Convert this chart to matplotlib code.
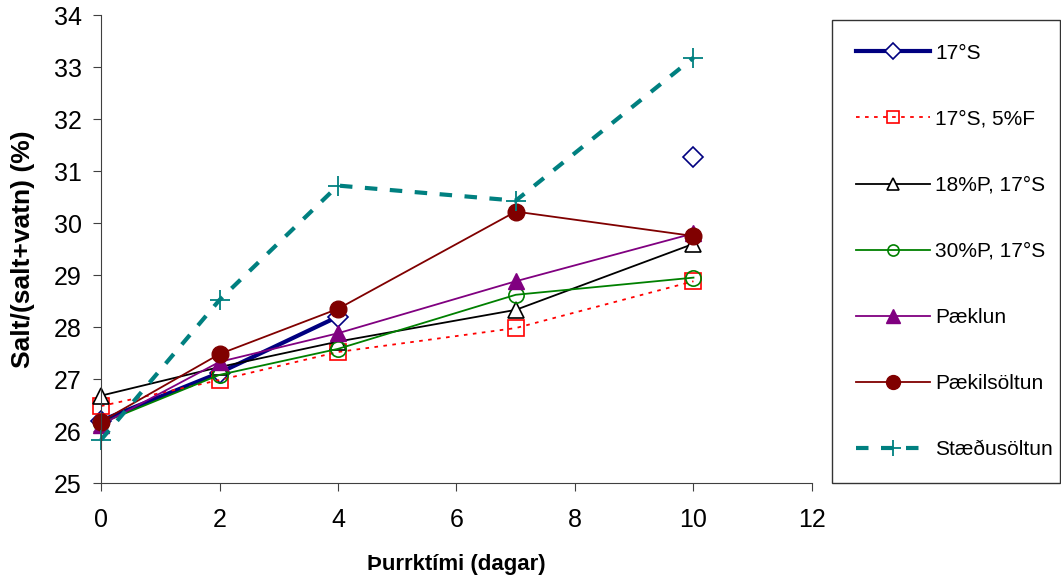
import numpy as np
import matplotlib
matplotlib.use("Agg")
import matplotlib.pyplot as plt

plt.rcParams['font.family'] = ['Liberation Sans', 'DejaVu Sans']

days = [0, 2, 4, 7, 10]
s17 = [26.2, 27.12, 28.2, np.nan, 31.27]
s17_5f = [26.48, 26.98, 27.52, 27.98, 28.88]
p18_s17 = [26.68, 27.23, 27.72, 28.33, 29.6]
p30_s17 = [26.15, 27.08, 27.58, 28.62, 28.95]
paeklun = [26.12, 27.33, 27.88, 28.88, 29.8]
paekilsoltun = [26.18, 27.48, 28.35, 30.22, 29.75]
staedusoltun = [25.83, 28.52, 30.72, 30.43, 33.18]

labels = ['17°S', '17°S, 5%F', '18%P, 17°S', '30%P, 17°S',
          'Pæklun', 'Pækilsöltun', 'Stæðusöltun']

fig = plt.figure(figsize=(10.61, 5.8), dpi=100)
ax = fig.add_axes([0.0952, 0.1672, 0.6701, 0.8069])

ax.plot(days, s17, color='#000080', lw=3, marker='D', ms=10,
        mfc='white', mec='#000080', mew=1.2, label=labels[0], clip_on=False)
ax.plot(days, s17_5f, color='red', lw=1.3, ls=(0, (2, 3)), marker='s', ms=11,
        mfc='none', mec='red', mew=1.2, label=labels[1], clip_on=False)
ax.plot(days, p18_s17, color='black', lw=1.3, marker='^', ms=12,
        mfc='white', mec='black', mew=1.2, label=labels[2], clip_on=False)
ax.plot(days, p30_s17, color='green', lw=1.3, marker='o', ms=11,
        mfc='none', mec='green', mew=1.2, label=labels[3], clip_on=False)
ax.plot(days, paeklun, color='purple', lw=1.3, marker='^', ms=12,
        mfc='purple', mec='purple', label=labels[4], clip_on=False)
ax.plot(days, paekilsoltun, color='#800000', lw=1.3, marker='o', ms=12,
        mfc='#800000', mec='#800000', label=labels[5], clip_on=False)
ax.plot(days, staedusoltun, color='#008080', lw=3, ls=(0, (3, 3)), marker='+', ms=15,
        mew=1.3, label=labels[6], clip_on=False)

ax.set_xlim(0, 12)
ax.set_ylim(25, 34)
ax.set_xticks(range(0, 13, 2))
ax.set_yticks(range(25, 35))
ax.spines['top'].set_visible(False)
ax.spines['right'].set_visible(False)
ax.spines['left'].set_color('#404040')
ax.spines['bottom'].set_color('#404040')
ax.tick_params(direction='out', length=5.8, labelsize=18, colors='#404040', labelcolor='black')
ax.tick_params(axis='x', pad=12)
ax.tick_params(axis='y', pad=8)
ax.set_xlabel('Þurrktími (dagar)', fontsize=16, fontweight='bold', labelpad=16)
ax.set_ylabel('Salt/(salt+vatn) (%)', fontsize=19, fontweight='bold', labelpad=13.5)

leg = ax.legend(loc='upper left', bbox_to_anchor=(0.784, 0.167, 0.215, 0.799),
                bbox_transform=fig.transFigure, mode='expand',
                fontsize=15, frameon=True, fancybox=False, edgecolor='black',
                handlelength=3.55, handletextpad=0.25, labelspacing=2.26, borderpad=1.15,
                borderaxespad=0)
leg.get_frame().set_linewidth(1.0)
for h, ms in zip(leg.get_lines(), [8, 8, 9, 8, 10, 10, 12]):
    h.set_markersize(ms)

fig.savefig('out.png', dpi=100)
